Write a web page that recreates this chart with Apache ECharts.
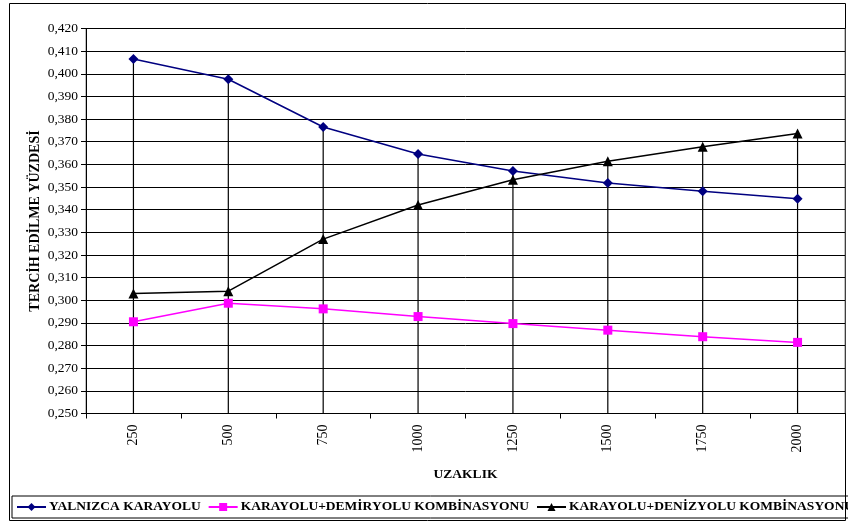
<!DOCTYPE html>
<html>
<head>
<meta charset="utf-8">
<script src="https://cdn.jsdelivr.net/npm/echarts@6/dist/echarts.min.js"></script>
<style>
html,body{margin:0;padding:0;background:#fff;}
#c{width:848px;height:523px;}
</style>
</head>
<body>
<div id="c"></div>
<script>
const categories = ['250', '500', '750', '1000', '1250', '1500', '1750', '2000'];
const yalnizcaKarayolu = [0.4065, 0.3976, 0.3765, 0.3646, 0.3571, 0.3518, 0.3481, 0.3448];
const demiryoluKomb = [0.2905, 0.2987, 0.2962, 0.2928, 0.2897, 0.2868, 0.2839, 0.2814];
const denizyoluKomb = [0.3030, 0.3040, 0.3270, 0.3421, 0.3532, 0.3614, 0.3678, 0.3736];
const seriesNames = ['YALNIZCA KARAYOLU', 'KARAYOLU+DEMİRYOLU KOMBİNASYONU', 'KARAYOLU+DENİZYOLU KOMBİNASYONU'];
const yMin = 0.25, yMax = 0.42, yStep = 0.01;

const dropData = categories.map((c, i) => [i, Math.max(yalnizcaKarayolu[i], demiryoluKomb[i], denizyoluKomb[i])]);
const serif = '"Liberation Serif", "Times New Roman", serif';

const chart = echarts.init(document.getElementById('c'));
chart.setOption({
  animation: false,
  backgroundColor: '#fff',
  textStyle: { fontFamily: serif },
  graphic: [{
    type: 'rect', z: -1,
    shape: { x: 9.5, y: 3.5, width: 836, height: 517 },
    style: { fill: 'none', stroke: '#000', lineWidth: 1 }
  }],
  grid: { left: 86, right: 3, top: 28.5, bottom: 109.5, show: true, borderColor: '#808080', borderWidth: 1 },
  legend: {
    data: seriesNames,
    left: 12, bottom: 5,
    width: 840,
    orient: 'horizontal',
    borderColor: '#000', borderWidth: 1,
    padding: [4, 2, 4, 4],
    itemGap: 7, itemWidth: 29, itemHeight: 10,
    textStyle: { fontFamily: serif, fontWeight: 'bold', fontSize: 13.5, color: '#000', padding: [0, 0, 0, -2] }
  },
  xAxis: {
    type: 'category',
    data: categories,
    boundaryGap: true,
    name: 'UZAKLIK',
    nameLocation: 'middle',
    nameGap: 54,
    nameMoveOverlap: false,
    nameTextStyle: { fontFamily: serif, fontWeight: 'bold', fontSize: 13.5, color: '#000' },
    axisLine: { lineStyle: { color: '#000', width: 1 } },
    axisTick: { show: true, interval: 0, length: 5, lineStyle: { color: '#000' } },
    axisLabel: { rotate: 90, interval: 0, margin: 11, fontFamily: serif, fontSize: 14, color: '#000' },
    splitLine: { show: false }
  },
  yAxis: {
    type: 'value',
    min: yMin, max: yMax, interval: yStep,
    name: 'TERCİH EDİLME YÜZDESİ',
    nameLocation: 'middle',
    nameGap: 44,
    nameMoveOverlap: false,
    nameRotate: 90,
    nameTextStyle: { fontFamily: serif, fontWeight: 'bold', fontSize: 14, color: '#000' },
    axisLine: { show: true, lineStyle: { color: '#000', width: 1 } },
    axisTick: { show: true, length: 5, lineStyle: { color: '#000' } },
    axisLabel: {
      margin: 8, fontFamily: serif, fontSize: 13.5, color: '#000',
      formatter: v => v.toFixed(3).replace('.', ',')
    },
    splitLine: { show: true, lineStyle: { color: '#000', width: 1 } }
  },
  series: [
    {
      type: 'custom',
      name: 'drop',
      data: dropData,
      z: 1,
      silent: true,
      renderItem: (params, api) => {
        const top = api.coord([api.value(0), api.value(1)]);
        const bottom = params.coordSys.y + params.coordSys.height;
        return {
          type: 'line',
          shape: { x1: top[0], y1: top[1], x2: top[0], y2: bottom },
          style: { stroke: '#000', lineWidth: 1.2 }
        };
      }
    },
    {
      name: seriesNames[0], type: 'line', data: yalnizcaKarayolu, z: 3,
      symbol: 'diamond', symbolSize: 10,
      lineStyle: { color: '#000080', width: 1.5 },
      itemStyle: { color: '#000080' }
    },
    {
      name: seriesNames[1], type: 'line', data: demiryoluKomb, z: 3,
      symbol: 'rect', symbolSize: 9,
      lineStyle: { color: '#FF00FF', width: 1.5 },
      itemStyle: { color: '#FF00FF' }
    },
    {
      name: seriesNames[2], type: 'line', data: denizyoluKomb, z: 3,
      symbol: 'triangle', symbolSize: 10,
      lineStyle: { color: '#000', width: 1.5 },
      itemStyle: { color: '#000' }
    }
  ]
});
</script>
</body>
</html>
